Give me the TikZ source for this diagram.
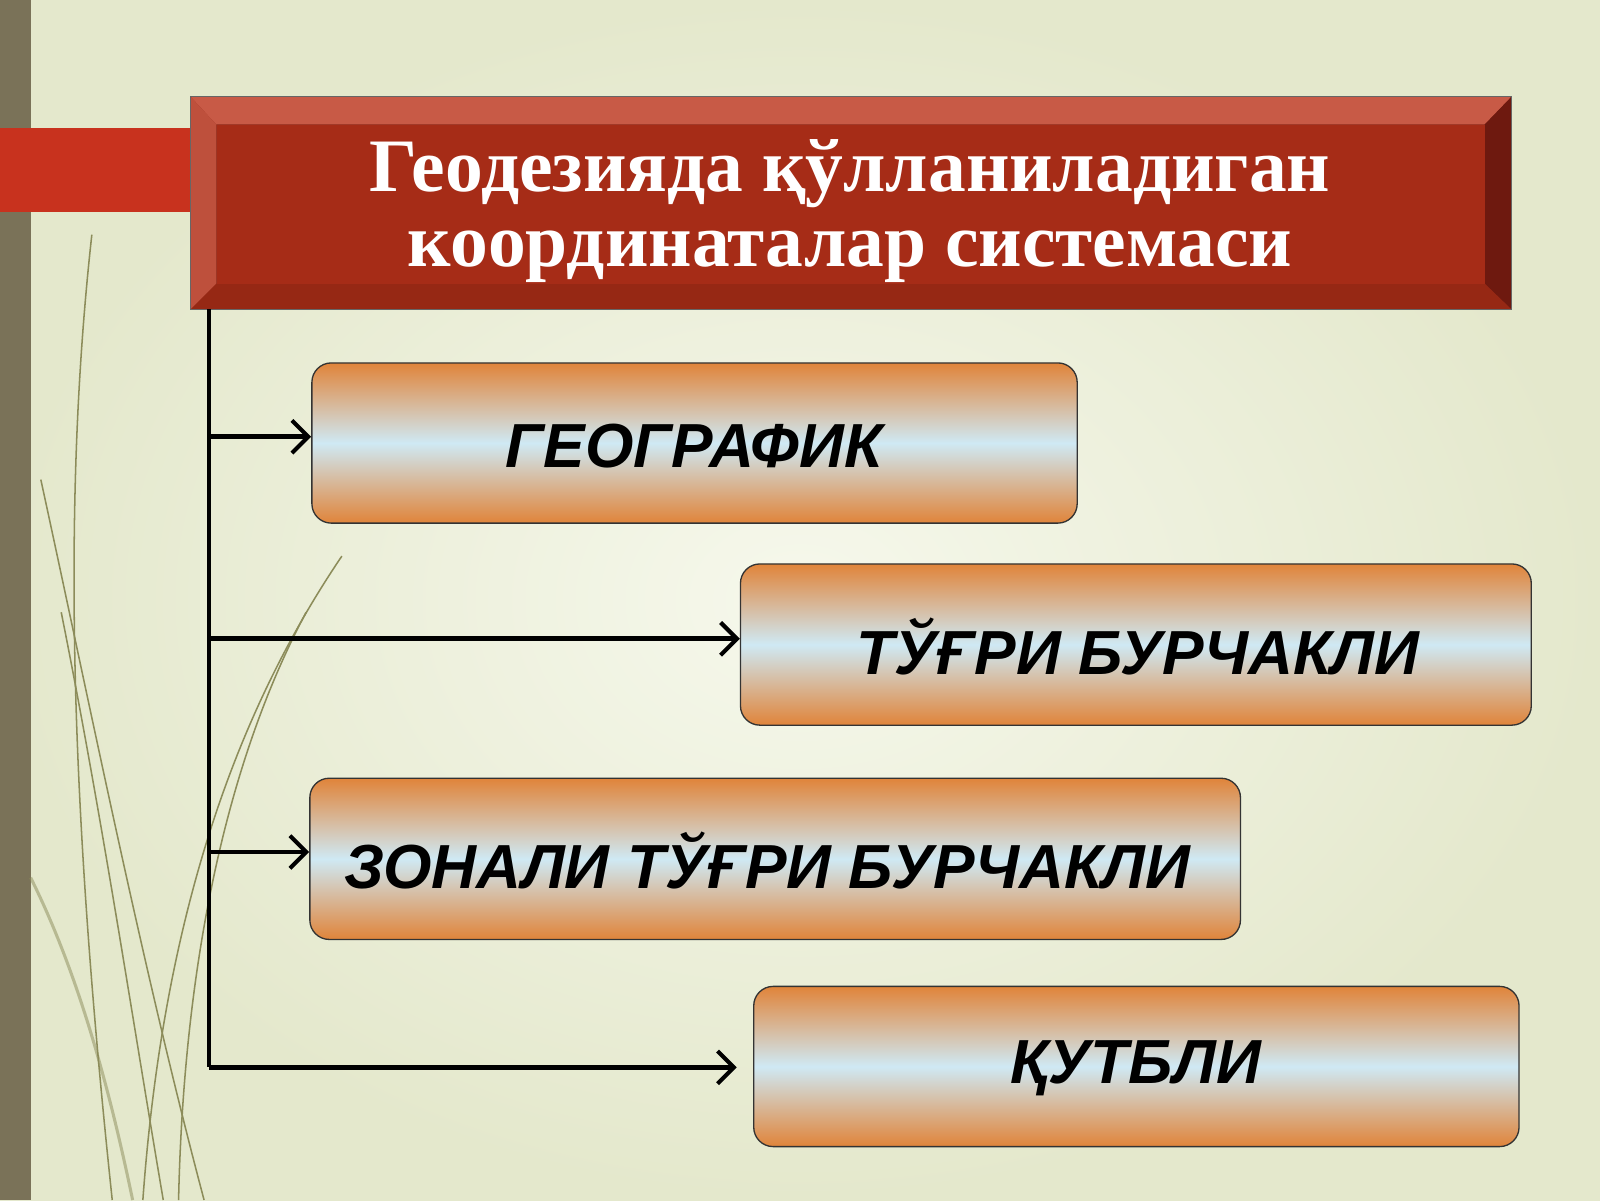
\documentclass[tikz,border=0pt]{standalone}
\usepackage{fontspec}
\setmainfont{Liberation Serif}
\setsansfont{Liberation Sans}
\usetikzlibrary{arrows.meta}
\definecolor{orange1}{HTML}{E0843A}
\definecolor{blue1}{HTML}{CFE9F4}
\definecolor{bgc}{HTML}{F6F8EC}
\definecolor{bge}{HTML}{E4E8CC}
\definecolor{redd}{HTML}{A62C17}
\definecolor{olivebar}{RGB}{122,114,88}
\definecolor{grass}{RGB}{140,140,90}
\definecolor{strip}{RGB}{200,50,30}
\definecolor{tdark}{RGB}{140,40,25}
\definecolor{ttop}{RGB}{200,90,70}
\definecolor{tleft}{RGB}{190,80,60}
\definecolor{tright}{RGB}{110,25,15}
\definecolor{tbot}{RGB}{150,40,20}
\begin{document}
\begin{tikzpicture}[x=1pt,y=-1pt,
  box/.style={draw=black!80,line width=1.3pt,rounded corners=19pt,top color=orange1,bottom color=orange1,middle color=blue1},
  lbl/.style={font=\sffamily\bfseries\itshape\fontsize{61}{64}\selectfont},
  conn/.style={line width=4.5pt,draw=black},
  arr/.style={conn,-{Straight Barb[length=16pt,width=32pt,line width=4pt]}}]
\useasboundingbox (0,0) rectangle (1568,1176);
\shade[inner color=bgc,outer color=bge] (0,0) rectangle (1568,1176);
\fill[olivebar] (0,0) rectangle (30,1176);
% grass
\begin{scope}[draw=grass,line width=1.5pt]
\draw (40,470) .. controls (90,700) and (140,950) .. (200,1176);
\draw (60,600) .. controls (100,800) and (130,1000) .. (160,1176);
\draw (90,230) .. controls (60,500) and (70,800) .. (110,1176);
\draw (335,545) .. controls (230,700) and (160,900) .. (140,1176);
\draw (300,600) .. controls (220,750) and (180,950) .. (175,1176);
\draw[line width=3pt,opacity=.5] (30,860) .. controls (80,960) and (110,1080) .. (130,1176);
\end{scope}
% red strip
\fill[strip] (0,125) rectangle (190,208);
% title box
\fill[tdark] (187,95) rectangle (1481,303);
\fill[ttop] (187,95) -- (1481,95) -- (1455,122) -- (212,122) -- cycle;
\fill[tleft] (187,95) -- (212,122) -- (212,278) -- (187,303) -- cycle;
\fill[tright] (1481,95) -- (1481,303) -- (1455,278) -- (1455,122) -- cycle;
\fill[tbot] (187,303) -- (212,278) -- (1455,278) -- (1481,303) -- cycle;
\node[fill=redd,minimum width=1243,minimum height=156,anchor=north west,inner sep=0] (title) at (212,122) {};
\node[text=white,font=\bfseries\fontsize{74}{74}\selectfont,align=center] (tt) at (833,207) {Геодезияда қўлланиладиган\\координаталар системаси};
\draw[line width=1pt,black!60] (187,95) rectangle (1481,303);
% boxes
\node[box,minimum width=750,minimum height=157,anchor=north west] (b1) at (305,355) {};
\node[lbl] at (680,437) {ГЕОГРАФИК};
\node[box,minimum width=775,minimum height=158,anchor=north west] (b2) at (725,552) {};
\node[lbl] at (1115,634) {ТЎҒРИ БУРЧАКЛИ};
\node[box,minimum width=912,minimum height=158,anchor=north west] (b3) at (303,762) {};
\node[lbl] at (752,843) {ЗОНАЛИ ТЎҒРИ БУРЧАКЛИ};
\node[box,minimum width=750,minimum height=157,anchor=north west] (b4) at (738,966) {};
\node[lbl] at (1113,1047) {ҚУТБЛИ};
% connectors
\coordinate (top) at (205,303);
\coordinate (bot) at (205,1046);
\coordinate (e4) at (722,1046);
\draw[conn] (top) -- (bot);
\draw[arr] (205,428) -- (b1.west|-0,428);
\draw[arr] (205,626) -- (b2.west|-0,626);
\draw[arr] (205,835) -- (b3.west|-0,835);
\draw[arr] (bot) -- (e4);
\end{tikzpicture}
\end{document}
